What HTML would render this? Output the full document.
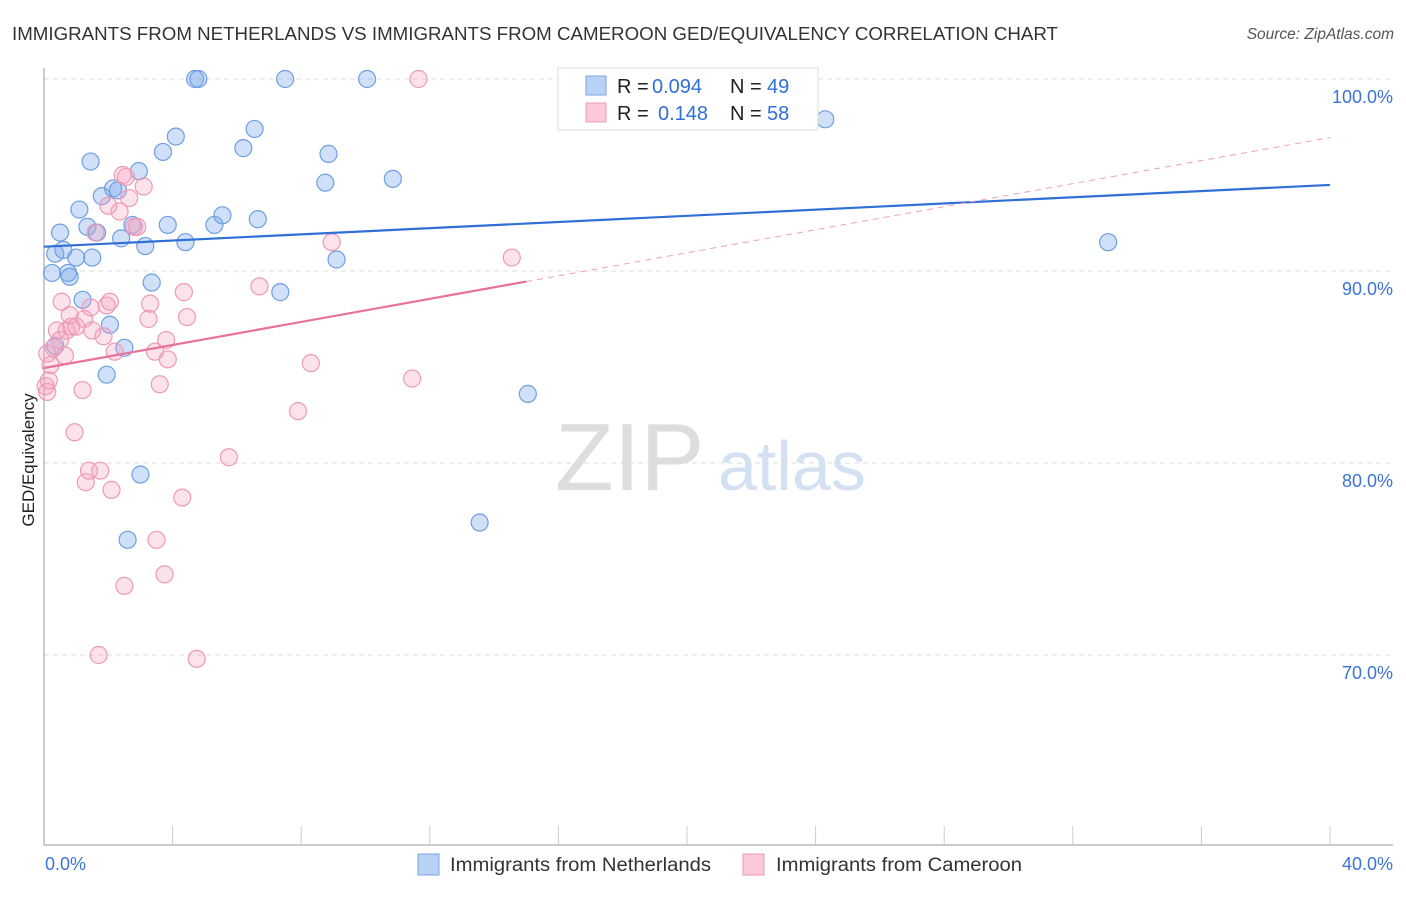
<!DOCTYPE html>
<html><head><meta charset="utf-8"><style>
body{margin:0;background:#fff;font-family:"Liberation Sans",sans-serif;}
svg text{font-family:"Liberation Sans",sans-serif;}
</style></head><body>
<svg id="c" width="1406" height="892" xmlns="http://www.w3.org/2000/svg">
<text x="12" y="40" font-size="18.5" fill="#333" textLength="1046" lengthAdjust="spacingAndGlyphs">IMMIGRANTS FROM NETHERLANDS VS IMMIGRANTS FROM CAMEROON GED/EQUIVALENCY CORRELATION CHART</text>
<text x="1394" y="39" font-size="15.5" fill="#555" font-style="italic" text-anchor="end">Source: ZipAtlas.com</text>
<text x="34" y="460" font-size="17" fill="#222" text-anchor="middle" transform="rotate(-90 34 460)">GED/Equivalency</text>
<text x="555" y="490" font-size="96" fill="#ddd" font-family="Liberation Serif">ZIP</text>
<text x="718" y="490" font-size="70" fill="#d3e1f3">atlas</text>
<g id="grid"></g><g id="axes"></g><g id="pts"></g><g id="trend"></g>
<g>
<rect x="558" y="68" width="260" height="62" fill="#fff" stroke="#ddd"/>
<rect x="586" y="76" width="20" height="19" fill="#b8d2f5" stroke="#7ba6e4"/>
<text x="617" y="93" font-size="20" fill="#222">R = </text><text x="652" y="93" font-size="20" fill="#2f6fd6">0.094</text>
<text x="730" y="93" font-size="20" fill="#222">N = </text><text x="767" y="93" font-size="20" fill="#2f6fd6">49</text>
<rect x="586" y="103" width="20" height="19" fill="#fbc9d8" stroke="#ee9ab6"/>
<text x="617" y="120" font-size="20" fill="#222">R = </text><text x="658" y="120" font-size="20" fill="#2f6fd6">0.148</text>
<text x="730" y="120" font-size="20" fill="#222">N = </text><text x="767" y="120" font-size="20" fill="#2f6fd6">58</text>
</g>
<rect x="418" y="854" width="21" height="21" fill="#b8d2f5" stroke="#7ba6e4"/>
<text x="450" y="871" font-size="19" fill="#333" textLength="261" lengthAdjust="spacingAndGlyphs">Immigrants from Netherlands</text>
<rect x="743" y="854" width="21" height="21" fill="#fbc9d8" stroke="#ee9ab6"/>
<text x="776" y="871" font-size="19" fill="#333" textLength="246" lengthAdjust="spacingAndGlyphs">Immigrants from Cameroon</text>
<text x="45" y="870" font-size="18" fill="#3a74d8">0.0%</text>
<text x="1393" y="870" font-size="18" fill="#3a74d8" text-anchor="end">40.0%</text>
</svg>
<script>
const yTicks=[100,90,80,70];
const yTickLabels=["100.0%","90.0%","80.0%","70.0%"];
const blueX=[0.25,0.35,0.5,0.6,0.75,0.8,1,1.1,1.2,1.35,1.45,1.5,1.65,1.8,1.95,2.05,2.15,2.3,2.4,2.5,2.6,2.75,2.95,3.0,3.15,3.35,3.7,3.85,4.1,4.4,4.7,4.8,5.3,5.55,6.2,6.55,6.65,7.35,7.5,8.75,8.85,9.1,10.05,10.85,13.55,15.05,24.3,33.1,0.35];
const blueY=[89.9,90.9,92.0,91.1,89.9,89.7,90.7,93.2,88.5,92.3,95.7,90.7,92.0,93.9,84.6,87.2,94.3,94.2,91.7,86.0,76.0,92.4,95.2,79.4,91.3,89.4,96.2,92.4,97.0,91.5,100,100,92.4,92.9,96.4,97.4,92.7,88.9,100,94.6,96.1,90.6,100,94.8,76.9,83.6,97.9,91.5,86.1];
const pinkX=[0.1,0.15,0.2,0.3,0.4,0.5,0.55,0.65,0.7,0.8,0.85,0.95,1.0,1.2,1.25,1.3,1.4,1.45,1.5,1.6,1.7,1.75,1.85,1.95,2.0,2.05,2.1,2.2,2.35,2.45,2.5,2.55,2.65,2.8,2.9,3.1,3.25,3.3,3.45,3.5,3.6,3.75,3.8,3.85,4.3,4.35,4.45,4.75,5.75,6.7,7.9,8.3,8.95,11.45,11.65,14.55,0.05,0.1];
const pinkY=[83.7,84.3,85.1,86.0,86.9,86.4,88.4,85.6,86.9,87.7,87.1,81.6,87.1,83.8,87.5,79.0,79.6,88.1,86.9,92.0,70.0,79.6,86.6,88.2,93.4,88.4,78.6,85.8,93.1,95.0,73.6,94.9,93.8,92.3,92.3,94.4,87.5,88.3,85.8,76.0,84.1,74.2,86.4,85.4,78.2,88.9,87.6,69.8,80.3,89.2,82.7,85.2,91.5,84.4,100,90.7,84.0,85.7];
const X0=44,X1=1330,Y100=79,YPER=19.2;
const sx=v=>X0+(X1-X0)*v/40;
const sy=v=>Y100+(100-v)*YPER;
const NS="http://www.w3.org/2000/svg";
function mk(tag,attrs,parent){const e=document.createElementNS(NS,tag);for(const k in attrs)e.setAttribute(k,attrs[k]);document.getElementById(parent).appendChild(e);return e;}
yTicks.forEach((t,i)=>{
  const l=mk('line',{x1:X0,x2:1393,y1:sy(t),y2:sy(t),stroke:'#ddd','stroke-dasharray':'5,4'},'grid');
  
  
  const tx=mk('text',{x:1393,y:sy(t)+24,'font-size':18,fill:'#3a74d8','text-anchor':'end'},'grid');
  tx.textContent=yTickLabels[i];
  
  
});
const ax=mk('line',{x1:X0,x2:X0,y1:68,y2:845,stroke:'#bbb','stroke-width':1.5},'axes');


const bx=mk('line',{x1:X0,x2:1393,y1:845,y2:845,stroke:'#bbb','stroke-width':1.5},'axes');


for(let i=1;i<=10;i++){
  const t=mk('line',{x1:sx(i*4),x2:sx(i*4),y1:826,y2:845,stroke:'#ccc'},'axes');
  
  
}
blueX.forEach((x,i)=>{
  const c=mk('circle',{cx:sx(x),cy:sy(blueY[i]),r:8.5,fill:'rgba(120,165,235,0.35)',stroke:'#6f9fe3','stroke-width':1.2},'pts');
  
  
});
pinkX.forEach((x,i)=>{
  const c=mk('circle',{cx:sx(x),cy:sy(pinkY[i]),r:8.5,fill:'rgba(245,160,190,0.3)',stroke:'#ee9ab6','stroke-width':1.2},'pts');
  
  
});
function fit(xs,ys){const n=xs.length,mx=xs.reduce((a,b)=>a+b)/n,my=ys.reduce((a,b)=>a+b)/n;let sxy=0,sxx=0;xs.forEach((x,i)=>{sxy+=(x-mx)*(ys[i]-my);sxx+=(x-mx)**2});const b=sxy/sxx;return [my-b*mx,b];}
const [ba,bb]=fit(blueX,blueY);
const bl=mk('line',{x1:sx(0),y1:sy(ba),x2:sx(40),y2:sy(ba+bb*40),stroke:'#2f6fd6','stroke-width':2.2},'trend');


const [pa,pb]=fit(pinkX,pinkY);
const pl=mk('line',{x1:sx(0),y1:sy(pa),x2:sx(15),y2:sy(pa+pb*15),stroke:'#e8729a','stroke-width':2.2},'trend');


const pd=mk('line',{x1:sx(15),y1:sy(pa+pb*15),x2:sx(40),y2:sy(pa+pb*40),stroke:'#eea0b9','stroke-width':1,'stroke-dasharray':'6,5'},'trend');


</script>
</body></html>
